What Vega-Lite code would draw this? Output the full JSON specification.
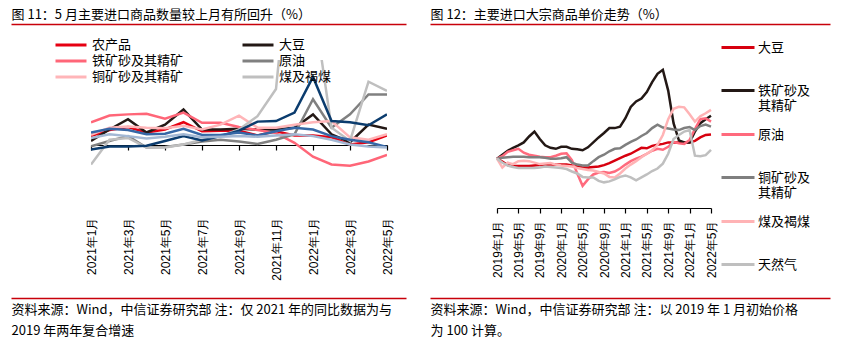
{
  "$schema": "https://vega.github.io/schema/vega-lite/v6.json",
  "padding": {"left": 8, "top": 8, "right": 0, "bottom": 0},
  "background": "white",
  "columns": 2,
  "align": "none",
  "spacing": -59,
  "resolve": {"scale": {"color": "independent"}, "legend": {"color": "independent"}},
  "config": {
    "font": "Noto Sans CJK SC",
    "view": {"stroke": null},
    "axis": {"grid": false, "domainColor": "#000000", "tickColor": "#000000", "labelColor": "#000000", "labelFont": "Liberation Sans", "labelFontSize": 12, "tickSize": 5, "domainWidth": 1.2, "tickWidth": 1.2, "labelOverlap": false,
      "titleFont": "Noto Sans CJK SC", "titleFontSize": 13, "titleFontWeight": "normal", "titleColor": "#000000"},
    "legend": {"labelFont": "Noto Sans CJK SC", "labelFontSize": 13, "labelColor": "#000000"}
  },
  "concat": [
    {
      "width": 296, "height": 145,
      "resolve": {"scale": {"x": "independent"}, "axis": {"x": "independent"}},
      "layer": [
        {
          "data": {"values": [
            {"m": "2021年1月", "农产品": 14, "大豆": 6, "铁矿砂及其精矿": 37, "原油": -3, "铜矿砂及其精矿": 16, "煤及褐煤": -33, "系列7": -8, "系列8": 20, "系列9": 11},
            {"m": "2021年2月", "农产品": 24, "大豆": 25, "铁矿砂及其精矿": 48, "原油": 6, "铜矿砂及其精矿": 28, "煤及褐煤": 8, "系列7": -3, "系列8": 26, "系列9": 17},
            {"m": "2021年3月", "农产品": 29, "大豆": 42, "铁矿砂及其精矿": 50, "原油": 14, "铜矿砂及其精矿": 30, "煤及褐煤": 11, "系列7": -3, "系列8": 24, "系列9": 14},
            {"m": "2021年4月", "农产品": 20, "大豆": 20, "铁矿砂及其精矿": 51, "原油": -5, "铜矿砂及其精矿": 28, "煤及褐煤": -5, "系列7": -2, "系列8": 17, "系列9": 10},
            {"m": "2021年5月", "农产品": 25, "大豆": 33, "铁矿砂及其精矿": 43, "原油": -4, "铜矿砂及其精矿": 27, "煤及褐煤": -5, "系列7": 6, "系列8": 18, "系列9": 13},
            {"m": "2021年6月", "农产品": 37, "大豆": 58, "铁矿砂及其精矿": 53, "原油": 0, "铜矿砂及其精矿": 31, "煤及褐煤": 0, "系列7": 14, "系列8": 26, "系列9": 17},
            {"m": "2021年7月", "农产品": 22, "大豆": 25, "铁矿砂及其精矿": 36, "原油": 5, "铜矿砂及其精矿": 25, "煤及褐煤": 8, "系列7": 7, "系列8": 16, "系列9": 12},
            {"m": "2021年8月", "农产品": 23, "大豆": 25, "铁矿砂及其精矿": 36, "原油": 8, "铜矿砂及其精矿": 33, "煤及褐煤": 14, "系列7": 14, "系列8": 16, "系列9": 13},
            {"m": "2021年9月", "农产品": 23, "大豆": 26, "铁矿砂及其精矿": 29, "原油": 5, "铜矿砂及其精矿": 48, "煤及褐煤": 25, "系列7": 23, "系列8": 20, "系列9": 14},
            {"m": "2021年10月", "农产品": 15, "大豆": 25, "铁矿砂及其精矿": 24, "原油": 1, "铜矿砂及其精矿": 28, "煤及褐煤": 47, "系列7": 38, "系列8": 15, "系列9": 13},
            {"m": "2021年11月", "农产品": 22, "大豆": 25, "铁矿砂及其精矿": 19, "原油": 8, "铜矿砂及其精矿": 28, "煤及褐煤": 92, "系列7": 39, "系列8": 22, "系列9": 15},
            {"m": "2021年12月", "农产品": 15, "大豆": 28, "铁矿砂及其精矿": 3, "原油": 17, "铜矿砂及其精矿": 33, "煤及褐煤": 400, "系列7": 53, "系列8": 28, "系列9": 17},
            {"m": "2022年1月", "农产品": 15, "大豆": 50, "铁矿砂及其精矿": -20, "原油": 75, "铜矿砂及其精矿": 37, "煤及褐煤": 240, "系列7": 112, "系列8": 25, "系列9": 14},
            {"m": "2022年2月", "农产品": 12, "大豆": 17, "铁矿砂及其精矿": -33, "原油": 28, "铜矿砂及其精矿": 39, "煤及褐煤": 28, "系列7": 39, "系列8": 14, "系列9": 8},
            {"m": "2022年3月", "农产品": 0, "大豆": 4, "铁矿砂及其精矿": -35, "原油": 50, "铜矿砂及其精矿": 12, "煤及褐煤": 6, "系列7": 37, "系列8": 8, "系列9": 0},
            {"m": "2022年4月", "农产品": 4, "大豆": 33, "铁矿砂及其精矿": -28, "原油": 83, "铜矿砂及其精矿": 8, "煤及褐煤": 104, "系列7": 32, "系列8": 4, "系列9": -3},
            {"m": "2022年5月", "农产品": 15, "大豆": 26, "铁矿砂及其精矿": -17, "原油": 83, "铜矿砂及其精矿": 17, "煤及褐煤": 89, "系列7": 50, "系列8": -4, "系列9": -5}
          ]},
          "transform": [{"fold": ["农产品", "大豆", "铁矿砂及其精矿", "原油", "铜矿砂及其精矿", "煤及褐煤", "系列7", "系列8", "系列9"], "as": ["series", "value"]}],
          "mark": {"type": "line", "strokeWidth": 2.5, "clip": true},
          "encoding": {
            "x": {"field": "m", "type": "ordinal", "sort": null, "scale": {"padding": 0},
              "axis": {"orient": "bottom", "title": null, "values": ["2021年1月", "2021年3月", "2021年5月", "2021年7月", "2021年9月", "2021年11月", "2022年1月", "2022年3月", "2022年5月"],
                "labelAngle": -90, "offset": -60, "labelPadding": 67, "labelOverlap": false}},
            "y": {"field": "value", "type": "quantitative", "scale": {"domain": [-100, 140], "nice": false, "zero": false},
              "axis": {"title": null, "values": [-100, -60, -20, 20, 60, 100], "labelExpr": "format(datum.value, '.2f') + '%'", "minExtent": 80, "maxExtent": 80, "labelPadding": 3, "labelOverlap": false, "labelBound": false}},
            "color": {"field": "series", "type": "nominal",
              "scale": {"domain": ["农产品", "大豆", "铁矿砂及其精矿", "原油", "铜矿砂及其精矿", "煤及褐煤", "系列7", "系列8", "系列9"],
                "range": ["#E60012", "#231815", "#FF6678", "#808080", "#FFB5B8", "#BFBFBF", "#0B3C6E", "#3567A6", "#A3B8D4"]},
              "legend": {"orient": "none", "legendX": -37, "legendY": -23, "columns": 2, "direction": "horizontal", "title": null,
                "values": ["农产品", "大豆", "铁矿砂及其精矿", "原油", "铜矿砂及其精矿", "煤及褐煤"],
                "symbolType": "stroke", "symbolSize": 961, "symbolStrokeWidth": 3, "labelOffset": 4, "columnPadding": 57, "rowPadding": 0, "clipHeight": 16, "labelLimit": 200}}
          }
        },
        {
          "data": {"values": [{"a": 0}]},
          "mark": {"type": "point", "opacity": 0},
          "encoding": {
            "x": {"field": "a", "type": "quantitative", "scale": {"domain": [0, 1], "range": [-80, 315]},
              "axis": {"orient": "top", "offset": 36, "domainColor": "#C8000A", "domainWidth": 1.5, "ticks": false, "labels": false, "minExtent": 0, "maxExtent": 0,
                "title": "图 11：5 月主要进口商品数量较上月有所回升（%）", "titleAnchor": "start", "titlePadding": 3}},
            "y": {"datum": 0, "type": "quantitative", "axis": null}
          }
        },
        {
          "data": {"values": [{"b": 0}]},
          "mark": {"type": "point", "opacity": 0},
          "encoding": {
            "x": {"field": "b", "type": "quantitative", "scale": {"domain": [0, 1], "range": [-80, 315]},
              "axis": {"orient": "bottom", "offset": 93, "domainColor": "#C8000A", "domainWidth": 1.5, "ticks": false, "labels": false, "minExtent": 0, "maxExtent": 0,
                "title": ["资料来源：Wind，中信证券研究部 注：仅 2021 年的同比数据为与", "2019 年两年复合增速"], "titleAnchor": "start", "titlePadding": 5, "titleLineHeight": 21}},
            "y": {"datum": 0, "type": "quantitative", "axis": null}
          }
        }
      ]
    },
    {
      "width": 214, "height": 148,
      "resolve": {"scale": {"x": "independent"}, "axis": {"x": "independent"}},
      "layer": [
        {
          "data": {"values": [
            {"m": "2019年1月", "大豆": 100, "铁矿砂及其精矿": 100, "原油": 100, "铜矿砂及其精矿": 100, "煤及褐煤": 100, "天然气": 100},
            {"m": "2019年2月", "大豆": 94, "铁矿砂及其精矿": 108, "原油": 105, "铜矿砂及其精矿": 102, "煤及褐煤": 82, "天然气": 92},
            {"m": "2019年3月", "大豆": 87, "铁矿砂及其精矿": 116, "原油": 114, "铜矿砂及其精矿": 103, "煤及褐煤": 92, "天然气": 86},
            {"m": "2019年4月", "大豆": 85, "铁矿砂及其精矿": 122, "原油": 117, "铜矿砂及其精矿": 104, "煤及褐煤": 89, "天然气": 83},
            {"m": "2019年5月", "大豆": 85, "铁矿砂及其精矿": 127, "原油": 120, "铜矿砂及其精矿": 104, "煤及褐煤": 95, "天然气": 81},
            {"m": "2019年6月", "大豆": 85, "铁矿砂及其精矿": 133, "原油": 112, "铜矿砂及其精矿": 104, "煤及褐煤": 96, "天然气": 81},
            {"m": "2019年7月", "大豆": 85, "铁矿砂及其精矿": 145, "原油": 108, "铜矿砂及其精矿": 103, "煤及褐煤": 95, "天然气": 81},
            {"m": "2019年8月", "大豆": 86, "铁矿砂及其精矿": 155, "原油": 106, "铜矿砂及其精矿": 103, "煤及褐煤": 92, "天然气": 81},
            {"m": "2019年9月", "大豆": 87, "铁矿砂及其精矿": 140, "原油": 104, "铜矿砂及其精矿": 103, "煤及褐煤": 89, "天然气": 82},
            {"m": "2019年10月", "大豆": 87, "铁矿砂及其精矿": 127, "原油": 103, "铜矿砂及其精矿": 102, "煤及褐煤": 90, "天然气": 84},
            {"m": "2019年11月", "大豆": 88, "铁矿砂及其精矿": 122, "原油": 103, "铜矿砂及其精矿": 100, "煤及褐煤": 91, "天然气": 83},
            {"m": "2019年12月", "大豆": 88, "铁矿砂及其精矿": 120, "原油": 106, "铜矿砂及其精矿": 100, "煤及褐煤": 88, "天然气": 82},
            {"m": "2020年1月", "大豆": 88, "铁矿砂及其精矿": 124, "原油": 110, "铜矿砂及其精矿": 101, "煤及褐煤": 86, "天然气": 81},
            {"m": "2020年2月", "大豆": 88, "铁矿砂及其精矿": 124, "原油": 111, "铜矿砂及其精矿": 103, "煤及褐煤": 85, "天然气": 79},
            {"m": "2020年3月", "大豆": 86, "铁矿砂及其精矿": 120, "原油": 97, "铜矿砂及其精矿": 92, "煤及褐煤": 84, "天然气": 74},
            {"m": "2020年4月", "大豆": 84, "铁矿砂及其精矿": 119, "原油": 70, "铜矿砂及其精矿": 88, "煤及褐煤": 81, "天然气": 70},
            {"m": "2020年5月", "大豆": 82, "铁矿砂及其精矿": 117, "原油": 45, "铜矿砂及其精矿": 86, "煤及褐煤": 79, "天然气": 63},
            {"m": "2020年6月", "大豆": 82, "铁矿砂及其精矿": 123, "原油": 58, "铜矿砂及其精矿": 86, "煤及褐煤": 77, "天然气": 62},
            {"m": "2020年7月", "大豆": 83, "铁矿砂及其精矿": 133, "原油": 68, "铜矿砂及其精矿": 95, "煤及褐煤": 76, "天然气": 62},
            {"m": "2020年8月", "大豆": 84, "铁矿砂及其精矿": 143, "原油": 72, "铜矿砂及其精矿": 103, "煤及褐煤": 73, "天然气": 55},
            {"m": "2020年9月", "大豆": 87, "铁矿砂及其精矿": 152, "原油": 73, "铜矿砂及其精矿": 108, "煤及褐煤": 70, "天然气": 52},
            {"m": "2020年10月", "大豆": 91, "铁矿砂及其精矿": 162, "原油": 71, "铜矿砂及其精矿": 115, "煤及褐煤": 63, "天然气": 54},
            {"m": "2020年11月", "大豆": 96, "铁矿砂及其精矿": 162, "原油": 74, "铜矿砂及其精矿": 120, "煤及褐煤": 62, "天然气": 58},
            {"m": "2020年12月", "大豆": 101, "铁矿砂及其精矿": 165, "原油": 80, "铜矿砂及其精矿": 121, "煤及褐煤": 70, "天然气": 63},
            {"m": "2021年1月", "大豆": 106, "铁矿砂及其精矿": 182, "原油": 88, "铜矿砂及其精矿": 128, "煤及褐煤": 80, "天然气": 66},
            {"m": "2021年2月", "大豆": 110, "铁矿砂及其精矿": 205, "原油": 95, "铜矿砂及其精矿": 134, "煤及褐煤": 88, "天然气": 62},
            {"m": "2021年3月", "大豆": 116, "铁矿砂及其精矿": 216, "原油": 100, "铜矿砂及其精矿": 139, "煤及褐煤": 95, "天然气": 56},
            {"m": "2021年4月", "大豆": 122, "铁矿砂及其精矿": 222, "原油": 104, "铜矿砂及其精矿": 146, "煤及褐煤": 103, "天然气": 62},
            {"m": "2021年5月", "大豆": 121, "铁矿砂及其精矿": 235, "原油": 110, "铜矿砂及其精矿": 152, "煤及褐煤": 110, "天然气": 68},
            {"m": "2021年6月", "大豆": 126, "铁矿砂及其精矿": 255, "原油": 116, "铜矿砂及其精矿": 162, "煤及褐煤": 117, "天然气": 75},
            {"m": "2021年7月", "大豆": 128, "铁矿砂及其精矿": 272, "原油": 120, "铜矿砂及其精矿": 169, "煤及褐煤": 128, "天然气": 80},
            {"m": "2021年8月", "大豆": 130, "铁矿砂及其精矿": 280, "原油": 118, "铜矿砂及其精矿": 163, "煤及褐煤": 148, "天然气": 90},
            {"m": "2021年9月", "大豆": 133, "铁矿砂及其精矿": 238, "原油": 124, "铜矿砂及其精矿": 161, "煤及褐煤": 180, "天然气": 110},
            {"m": "2021年10月", "大豆": 133, "铁矿砂及其精矿": 172, "原油": 134, "铜矿砂及其精矿": 159, "煤及褐煤": 201, "天然气": 140},
            {"m": "2021年11月", "大豆": 133, "铁矿砂及其精矿": 137, "原油": 131, "铜矿砂及其精矿": 158, "煤及褐煤": 205, "天然气": 148},
            {"m": "2021年12月", "大豆": 133, "铁矿砂及其精矿": 133, "原油": 130, "铜矿砂及其精矿": 162, "煤及褐煤": 204, "天然气": 155},
            {"m": "2022年1月", "大豆": 133, "铁矿砂及其精矿": 133, "原油": 138, "铜矿砂及其精矿": 164, "煤及褐煤": 190, "天然气": 158},
            {"m": "2022年2月", "大豆": 136, "铁矿砂及其精矿": 155, "原油": 160, "铜矿砂及其精矿": 158, "煤及褐煤": 175, "天然气": 106},
            {"m": "2022年3月", "大豆": 143, "铁矿砂及其精矿": 172, "原油": 180, "铜矿砂及其精矿": 166, "煤及褐煤": 186, "天然气": 105},
            {"m": "2022年4月", "大豆": 148, "铁矿砂及其精矿": 180, "原油": 182, "铜矿砂及其精矿": 169, "煤及褐煤": 192, "天然气": 107},
            {"m": "2022年5月", "大豆": 149, "铁矿砂及其精矿": 187, "原油": 175, "铜矿砂及其精矿": 165, "煤及褐煤": 199, "天然气": 118}
          ]},
          "transform": [{"fold": ["大豆", "铁矿砂及其精矿", "原油", "铜矿砂及其精矿", "煤及褐煤", "天然气"], "as": ["series", "value"]}],
          "mark": {"type": "line", "strokeWidth": 2.5},
          "encoding": {
            "x": {"field": "m", "type": "ordinal", "sort": null, "scale": {"padding": 0},
              "axis": {"orient": "bottom", "title": null, "values": ["2019年1月", "2019年5月", "2019年9月", "2020年1月", "2020年5月", "2020年9月", "2021年1月", "2021年5月", "2021年9月", "2022年1月", "2022年5月"],
                "labelAngle": -90, "labelPadding": 7, "labelOverlap": false}},
            "y": {"field": "value", "type": "quantitative", "scale": {"domain": [0, 300], "nice": false},
              "axis": {"values": [0, 50, 100, 150, 200, 250, 300], "format": ".2f", "labelFontSize": 13, "minExtent": 67, "maxExtent": 67, "labelPadding": 3, "labelOverlap": false, "labelBound": false,
                "title": "主要大宗商品进口单价", "titleAngle": 0, "titleX": 218, "titleY": -15, "titleAlign": "right", "titleBaseline": "middle"}},
            "color": {"field": "series", "type": "nominal",
              "scale": {"domain": ["大豆", "铁矿砂及其精矿", "原油", "铜矿砂及其精矿", "煤及褐煤", "天然气"],
                "range": ["#D7000F", "#231815", "#FF6A7D", "#7F7F7F", "#FFB3B5", "#BFBFBF"]},
              "legend": {"orient": "none", "legendX": 223, "legendY": -34, "title": null,
                "symbolType": "stroke", "symbolSize": 1089, "symbolStrokeWidth": 3, "labelOffset": 2, "rowPadding": 0, "clipHeight": 43, "labelLimit": 200,
                "labelExpr": "datum.label == '铁矿砂及其精矿' ? ['铁矿砂及', '其精矿'] : datum.label == '铜矿砂及其精矿' ? ['铜矿砂及', '其精矿'] : datum.label"}}
          }
        },
        {
          "data": {"values": [{"a": 0}]},
          "mark": {"type": "point", "opacity": 0},
          "encoding": {
            "x": {"field": "a", "type": "quantitative", "scale": {"domain": [0, 1], "range": [-67, 333]},
              "axis": {"orient": "top", "offset": 36, "domainColor": "#C8000A", "domainWidth": 1.5, "ticks": false, "labels": false, "minExtent": 0, "maxExtent": 0,
                "title": "图 12：主要进口大宗商品单价走势（%）", "titleAnchor": "start", "titlePadding": 3}},
            "y": {"datum": 100, "type": "quantitative", "axis": null}
          }
        },
        {
          "data": {"values": [{"b": 0}]},
          "mark": {"type": "point", "opacity": 0},
          "encoding": {
            "x": {"field": "b", "type": "quantitative", "scale": {"domain": [0, 1], "range": [-67, 333]},
              "axis": {"orient": "bottom", "offset": 90, "domainColor": "#C8000A", "domainWidth": 1.5, "ticks": false, "labels": false, "minExtent": 0, "maxExtent": 0,
                "title": ["资料来源：Wind，中信证券研究部 注：以 2019 年 1 月初始价格", "为 100 计算。"], "titleAnchor": "start", "titlePadding": 5, "titleLineHeight": 21}},
            "y": {"datum": 100, "type": "quantitative", "axis": null}
          }
        }
      ]
    }
  ]
}
